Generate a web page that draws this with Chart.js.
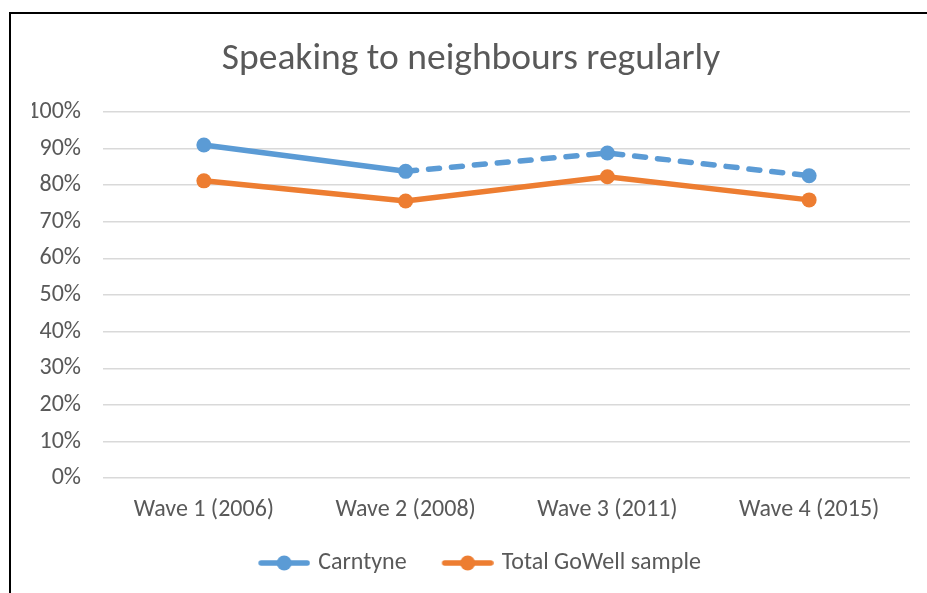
<!DOCTYPE html>
<html>
<head>
<meta charset="utf-8">
<script src="https://cdn.jsdelivr.net/npm/chart.js@4.4.1/dist/chart.umd.min.js"></script>
<style>
  html, body { margin: 0; padding: 0; background: #fff; overflow: hidden; width: 927px; height: 593px; }
  #box {
    position: absolute; left: 9px; top: 12px;
    width: 930px; height: 590px;
    border-top: 2px solid #000; border-left: 2px solid #000;
  }
  #chart { display: block; }
</style>
</head>
<body>
<div id="box"><canvas id="chart" width="930" height="590"></canvas></div>
<script>
// Chart data
const waves = ['Wave 1 (2006)', 'Wave 2 (2008)', 'Wave 3 (2011)', 'Wave 4 (2015)'];
const carntyne = [91.0, 83.8, 88.8, 82.6];
const totalGoWell = [81.2, 75.7, 82.3, 76.0];
const yTicks = [0, 10, 20, 30, 40, 50, 60, 70, 80, 90, 100];

const BLUE = '#5B9BD5';
const ORANGE = '#ED7D31';
const TEXT = '#595959';
const FONT = "'Carlito', 'Liberation Sans', Arial, sans-serif";

// Legend marker: a short line with a dot, with blank space on the left
// so items sit further apart than the label padding
const MARK_GAP = 21;
function legendMarker(color) {
  const c = document.createElement('canvas');
  c.width = MARK_GAP + 52; c.height = 18;
  const g = c.getContext('2d');
  g.strokeStyle = color;
  g.lineWidth = 5.5;
  g.lineCap = 'round';
  g.beginPath();
  g.moveTo(MARK_GAP + 3, 9); g.lineTo(MARK_GAP + 49, 9);
  g.stroke();
  g.fillStyle = color;
  g.beginPath();
  g.arc(MARK_GAP + 26, 9, 7.5, 0, Math.PI * 2);
  g.fill();
  return c;
}

const ctx = document.getElementById('chart').getContext('2d');
new Chart(ctx, {
  type: 'line',
  data: {
    labels: waves,
    datasets: [{
      label: 'Carntyne',
      data: carntyne,
      borderColor: BLUE,
      backgroundColor: BLUE,
      borderWidth: 5.5,
      pointRadius: 7.5,
      pointHoverRadius: 7.5,
      pointBorderWidth: 0,
      pointStyle: 'circle',
      // dashed from Wave 2 onwards
      segment: {
        borderDash: c => c.p0DataIndex >= 1 ? [11, 12] : undefined,
        borderCapStyle: c => c.p0DataIndex >= 1 ? 'round' : 'butt'
      }
    }, {
      label: 'Total GoWell sample',
      data: totalGoWell,
      borderColor: ORANGE,
      backgroundColor: ORANGE,
      borderWidth: 5.5,
      pointRadius: 7.5,
      pointHoverRadius: 7.5,
      pointBorderWidth: 0,
      pointStyle: 'circle'
    }]
  },
  options: {
    responsive: false,
    animation: false,
    layout: { padding: { left: 21, right: 31, top: 10, bottom: 19 } },
    plugins: {
      title: {
        display: true,
        text: 'Speaking to neighbours regularly',
        color: TEXT,
        font: { family: FONT, size: 37.5, weight: 'normal' },
        padding: { top: 13, bottom: 30 }
      },
      legend: {
        position: 'bottom',
        labels: {
          color: TEXT,
          font: { family: FONT, size: 24 },
          usePointStyle: true,
          pointStyleWidth: MARK_GAP + 44,
          padding: 18,
          generateLabels: chart => chart.data.datasets.map((ds, i) => ({
            text: ds.label,
            fontColor: TEXT,
            pointStyle: legendMarker(ds.borderColor),
            datasetIndex: i,
            lineWidth: 0,
            strokeStyle: 'transparent',
            fillStyle: ds.borderColor
          }))
        }
      },
      tooltip: { enabled: false }
    },
    scales: {
      x: {
        offset: true,
        grid: { display: false },
        border: { display: false },
        ticks: {
          color: TEXT,
          font: { family: FONT, size: 24 },
          padding: 9
        }
      },
      y: {
        min: 0,
        max: 100,
        afterBuildTicks: axis => { axis.ticks = yTicks.map(v => ({ value: v })); },
        afterFit: axis => { axis.width = 71; },
        grid: { color: '#D9D9D9', lineWidth: 1.5, drawTicks: false },
        border: { display: false },
        ticks: {
          color: TEXT,
          font: { family: FONT, size: 24 },
          padding: 22,
          callback: v => v + '%'
        }
      }
    }
  }
});
</script>
</body>
</html>
